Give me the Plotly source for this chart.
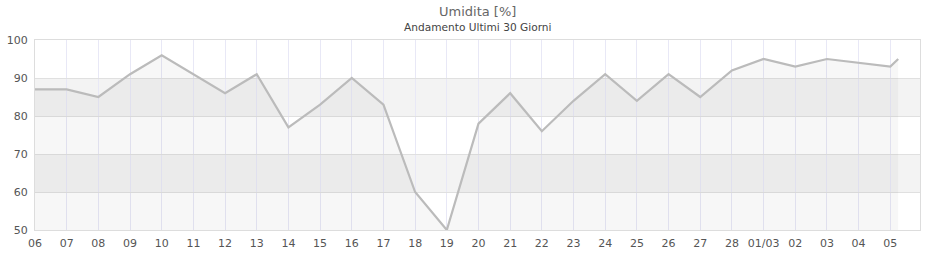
import plotly.graph_objects as go

dates = ["2023-02-06", "2023-02-07", "2023-02-08", "2023-02-09", "2023-02-10",
         "2023-02-11", "2023-02-12", "2023-02-13", "2023-02-14", "2023-02-15",
         "2023-02-16", "2023-02-17", "2023-02-18", "2023-02-19", "2023-02-20",
         "2023-02-21", "2023-02-22", "2023-02-23", "2023-02-24", "2023-02-25",
         "2023-02-26", "2023-02-27", "2023-02-28", "2023-03-01", "2023-03-02",
         "2023-03-03", "2023-03-04", "2023-03-05", "2023-03-05 06:00"]
humidity = [87, 87, 85, 91, 96, 91, 86, 91, 77, 83, 90, 83, 60, 50, 78,
            86, 76, 84, 91, 84, 91, 85, 92, 95, 93, 95, 94, 93, 95]

tick_dates = dates[:28]
tick_labels = ["06", "07", "08", "09", "10", "11", "12", "13", "14", "15",
               "16", "17", "18", "19", "20", "21", "22", "23", "24", "25",
               "26", "27", "28", "01/03", "02", "03", "04", "05"]
y_ticks = [50, 60, 70, 80, 90, 100]
bands = [(60, 70), (80, 90)]

fig = go.Figure()
fig.add_trace(go.Scatter(
    x=dates, y=humidity, mode="lines",
    line=dict(color="#bbbbbb", width=2.2),
    fill="tozeroy", fillcolor="rgba(0,0,0,0.03)",
    hoverinfo="x+y", showlegend=False,
))

for y0, y1 in bands:
    fig.add_shape(type="rect", xref="paper", yref="y", x0=0, x1=1, y0=y0, y1=y1,
                  fillcolor="#f3f3f3", line=dict(width=0), layer="below")

H, T, B = 260, 40, 30
plot_h = H - T - B

def py(pix):
    return (H - B - pix) / plot_h

fig.update_layout(
    width=940, height=H,
    margin=dict(l=35, r=20, t=T, b=B),
    paper_bgcolor="white", plot_bgcolor="white",
    font=dict(family="DejaVu Sans", size=11, color="#555555"),
)
fig.add_annotation(text="Umidita [%]", x=0.5, xref="paper", y=py(12), yref="paper",
                   showarrow=False, font=dict(size=13, color="#666666"),
                   xanchor="center", yanchor="middle")
fig.add_annotation(text="Andamento Ultimi 30 Giorni", x=0.5, xref="paper", y=py(27), yref="paper",
                   showarrow=False, font=dict(size=10.6, color="#444444"),
                   xanchor="center", yanchor="middle")

fig.update_xaxes(
    type="date", range=["2023-02-06", "2023-03-05 22:30"],
    tickvals=tick_dates, ticktext=tick_labels,
    showgrid=True, gridcolor="#e8e8f6", gridwidth=1,
    showline=True, linecolor="#dddddd", linewidth=1, mirror=True,
    ticks="", zeroline=False, tickfont=dict(size=11, color="#555555"),
    ticklabelstandoff=3, automargin=False,
)
fig.update_yaxes(
    range=[50, 100], tickvals=y_ticks,
    showgrid=True, gridcolor="#e0e0e0", gridwidth=1,
    showline=True, linecolor="#dddddd", linewidth=1, mirror=True,
    ticks="", zeroline=False, tickfont=dict(size=11, color="#555555"),
    ticklabelstandoff=4, automargin=False,
)

fig.write_html("out.html")
